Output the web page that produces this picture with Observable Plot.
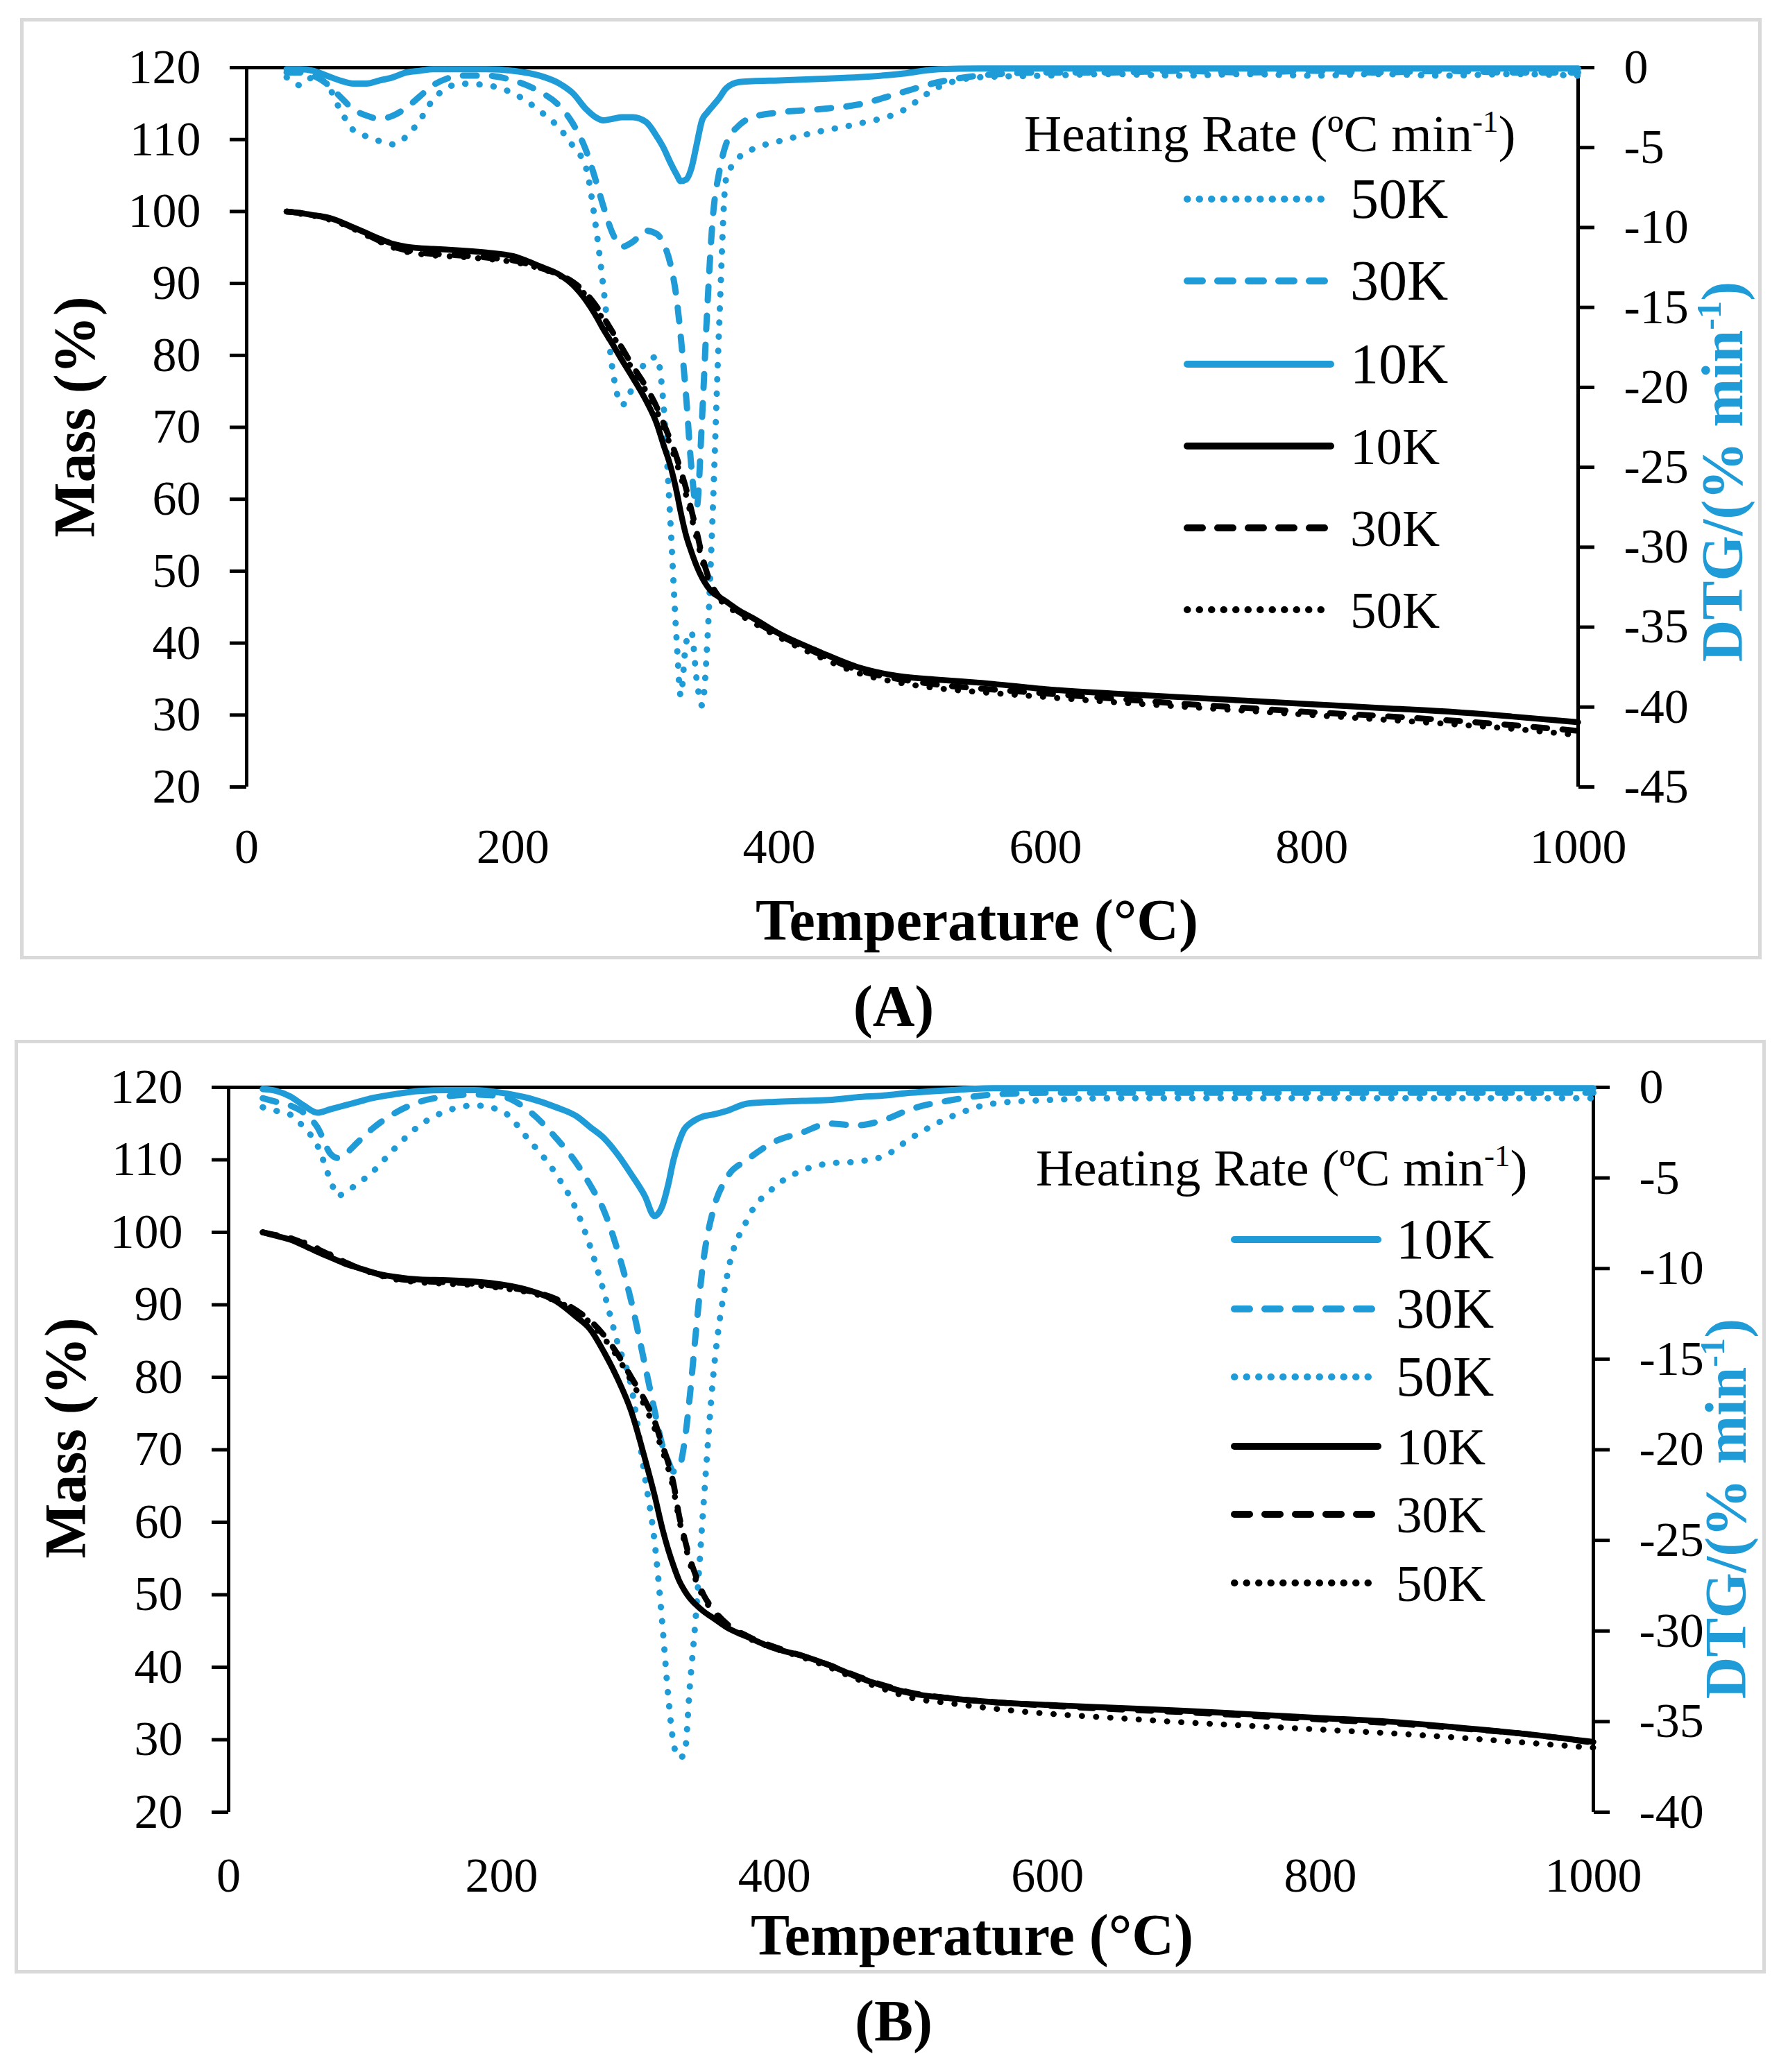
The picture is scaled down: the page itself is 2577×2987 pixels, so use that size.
<!DOCTYPE html>
<html><head><meta charset="utf-8">
<script src="https://cdn.jsdelivr.net/npm/d3@7"></script>
<script src="https://cdn.jsdelivr.net/npm/@observablehq/plot@0.6"></script>
<style>
body{margin:0;background:#fff;}
#page{position:relative;width:2577px;height:2987px;background:#fff;font-family:"Liberation Serif","Times New Roman",serif;color:#000;overflow:hidden}
.box{position:absolute;border:5px solid #d9d9d9;box-sizing:border-box}
.t{position:absolute;white-space:nowrap;line-height:1}
.c{transform:translate(-50%,-50%)}
.l{transform:translate(0,-50%)}
.v{transform:translate(-50%,-50%) rotate(-90deg)}
.b{font-weight:bold;font-size:84px}
sup{font-size:0.6em;vertical-align:0.62em;line-height:0}
.plot{position:absolute;left:0}
</style></head>
<body><div id="page"></div>
<script>
// ---------- data ----------
const blue = "#1f9cd8";
const massTicks = [20,30,40,50,60,70,80,90,100,110,120];
const tempTicks = [0,200,400,600,800,1000];
const dtgTicksA = [0,-5,-10,-15,-20,-25,-30,-35,-40,-45];
const dtgTicksB = [0,-5,-10,-15,-20,-25,-30,-35,-40];

// Panel A temperature grid (°C)
const tempA = [30,40,50,60,70,80,90,100,110,120,130,140,150,160,180,200,220,235,245,255,262,268,275,282,290,300,308,313,318,323,326,330,334,338,342,346,350,355,360,370,380,400,430,460,490,520,550,600,650,700,750,800,850,900,950,1000];
const massA10 = [100,99.8,99.5,99.2,98.6,97.8,97.0,96.2,95.5,95.1,94.9,94.8,94.7,94.6,94.3,93.8,92.4,91.2,89.8,87.6,85.6,83.6,81.5,79.3,76.9,73.7,70.5,67.6,64.8,61.0,58.2,55.0,52.7,50.7,49.1,47.9,47.0,46.4,45.8,44.5,43.5,41.3,38.8,36.6,35.4,34.9,34.5,33.6,33.0,32.5,32.0,31.5,31.0,30.5,29.8,29.0];
const massA30 = [100,99.8,99.5,99.1,98.5,97.7,96.8,95.9,95.1,94.6,94.3,94.1,94.0,93.9,93.6,93.2,92.2,91.2,90.2,88.6,87.0,85.3,83.2,81.0,78.5,75.6,72.8,70.6,68.3,65.8,64.0,61.5,58.5,55.5,52.2,49.6,47.8,46.4,45.6,44.3,43.2,41.1,38.5,36.2,35.0,34.2,33.7,33.0,32.3,31.6,31.0,30.4,29.9,29.3,28.6,27.8];
const massA50 = [100,99.7,99.4,99.0,98.4,97.6,96.7,95.8,95.0,94.4,94.1,93.9,93.8,93.7,93.4,93.0,92.1,91.1,90.0,88.3,86.6,84.9,82.8,80.5,78.0,75.0,72.2,70.0,67.6,65.0,63.2,60.6,57.6,54.6,51.6,49.2,47.4,46.1,45.3,44.0,42.9,40.8,38.1,35.8,34.5,33.7,33.2,32.5,31.8,31.2,30.6,30.0,29.4,28.8,28.1,27.2];
const dtgA10 = [-0.1,-0.1,-0.2,-0.5,-0.8,-1.0,-1.0,-0.8,-0.6,-0.3,-0.2,-0.1,-0.1,-0.1,-0.1,-0.2,-0.5,-1.0,-1.6,-2.6,-3.1,-3.3,-3.2,-3.1,-3.1,-3.4,-4.3,-5.0,-5.9,-6.7,-7.1,-7.0,-6.3,-4.8,-3.3,-2.8,-2.4,-1.9,-1.3,-0.9,-0.85,-0.8,-0.7,-0.6,-0.4,-0.1,-0.05,-0.05,-0.05,-0.05,-0.05,-0.05,-0.05,-0.05,-0.05,-0.05];
const dtgA30 = [-0.3,-0.3,-0.5,-1.0,-1.8,-2.6,-3.0,-3.2,-3.0,-2.5,-1.8,-1.1,-0.7,-0.5,-0.5,-0.8,-1.5,-2.4,-3.5,-5.2,-7.0,-8.7,-10.4,-11.2,-10.9,-10.2,-10.4,-11.0,-12.2,-14.5,-16.8,-20.5,-25.0,-27.5,-22.0,-15.0,-9.5,-6.5,-4.8,-3.6,-3.1,-2.8,-2.6,-2.3,-1.6,-0.9,-0.5,-0.3,-0.3,-0.2,-0.3,-0.2,-0.3,-0.2,-0.3,-0.3];
const dtgA50 = [-0.6,-1.1,-0.6,-1.0,-2.6,-3.9,-4.3,-4.6,-4.8,-4.3,-3.3,-2.0,-1.3,-1.0,-1.1,-1.6,-2.7,-3.8,-4.9,-6.3,-9.8,-13.8,-19.0,-21.1,-20.0,-18.4,-18.1,-21.0,-28.0,-35.9,-39.3,-36.0,-35.3,-38.3,-39.9,-35.9,-27.9,-15.9,-7.0,-5.6,-5.1,-4.6,-4.0,-3.5,-2.8,-1.2,-0.6,-0.5,-0.4,-0.5,-0.4,-0.5,-0.4,-0.5,-0.4,-0.5];

// Panel B temperature grid (°C)
const tempB = [25,35,45,55,65,75,80,85,95,105,120,140,160,180,200,220,240,255,265,275,285,295,305,312,318,322,326,330,334,338,342,348,355,365,380,400,420,440,460,480,500,530,560,600,650,700,750,800,850,900,950,1000];
const massB10 = [100,99.5,99.0,98.2,97.3,96.5,96.1,95.7,95.1,94.5,93.9,93.5,93.4,93.2,92.8,92.0,90.5,88.3,86.6,83.5,79.8,75.3,68.8,63.8,59.0,56.3,54.0,52.0,50.6,49.5,48.7,47.7,46.8,45.5,44.2,42.6,41.6,40.3,38.7,37.4,36.4,35.7,35.2,34.8,34.4,34.0,33.5,33.0,32.5,31.7,30.8,29.7];
const massB30 = [100,99.6,99.2,98.5,97.7,96.8,96.3,95.9,95.1,94.5,93.7,93.3,93.1,92.9,92.5,91.9,90.8,89.2,87.8,85.8,83.2,80.0,76.8,74.0,70.5,68.3,65.3,61.0,57.8,55.0,52.8,50.0,48.0,46.0,44.3,42.8,41.6,40.3,38.8,37.5,36.5,35.7,35.2,34.7,34.2,33.8,33.3,32.8,32.3,31.6,30.8,29.6];
const massB50 = [100,99.6,99.2,98.6,97.8,96.9,96.4,95.9,95.1,94.4,93.6,93.1,92.9,92.7,92.3,91.7,90.5,89.0,87.5,85.4,82.8,79.5,76.0,73.0,69.8,67.5,64.5,60.5,57.3,54.4,52.2,49.6,47.7,45.8,44.1,42.6,41.4,40.0,38.4,37.0,35.8,35.0,34.3,33.6,33.0,32.4,31.9,31.4,30.9,30.3,29.6,28.9];
const dtgB10 = [-0.1,-0.2,-0.5,-1.0,-1.4,-1.2,-1.1,-1.0,-0.8,-0.6,-0.4,-0.2,-0.15,-0.15,-0.3,-0.6,-1.1,-1.6,-2.2,-2.8,-3.7,-4.8,-6.0,-7.1,-6.5,-5.4,-4.0,-3.0,-2.3,-2.0,-1.8,-1.6,-1.5,-1.3,-0.9,-0.8,-0.75,-0.7,-0.55,-0.45,-0.3,-0.15,-0.05,-0.05,-0.05,-0.05,-0.05,-0.05,-0.05,-0.05,-0.05,-0.05];
const dtgB30 = [-0.6,-0.8,-1.0,-1.4,-2.2,-3.7,-3.9,-3.7,-3.0,-2.3,-1.5,-0.8,-0.5,-0.4,-0.5,-1.3,-2.8,-4.2,-5.4,-6.8,-9.0,-11.8,-15.3,-17.8,-19.8,-20.6,-21.2,-21.0,-19.6,-17.0,-13.8,-9.5,-6.8,-5.0,-4.0,-3.0,-2.5,-2.0,-2.1,-1.8,-1.2,-0.7,-0.4,-0.3,-0.3,-0.3,-0.3,-0.3,-0.3,-0.3,-0.3,-0.3];
const dtgB50 = [-1.1,-1.3,-1.5,-2.2,-3.2,-5.2,-6.0,-5.8,-5.3,-4.7,-3.5,-2.1,-1.3,-1.0,-1.3,-2.9,-4.8,-6.8,-8.8,-11.3,-14.1,-16.5,-21.5,-25.0,-29.8,-33.5,-36.2,-37.0,-36.8,-33.0,-29.5,-23.0,-16.0,-10.5,-7.3,-5.5,-4.6,-4.2,-4.1,-3.8,-2.8,-1.6,-0.9,-0.7,-0.6,-0.6,-0.6,-0.6,-0.6,-0.6,-0.6,-0.6];

const legendOrderA = [["dtg",50],["dtg",30],["dtg",10],["mass",10],["mass",30],["mass",50]];
const legendOrderB = [["dtg",10],["dtg",30],["dtg",50],["mass",10],["mass",30],["mass",50]];

// ---------- drawing ----------
const page = document.getElementById("page");
function el(html){ const d=document.createElement("div"); d.innerHTML=html; const n=d.firstElementChild; page.appendChild(n); return n; }

const curveDash = {10: null, 30: "20,22", 50: "0.5,20"};
const legDash = {10: null, 30: "22,22", 50: "0.5,17"};

function panel(cfg){
  const span = -cfg.dtgTicks[cfg.dtgTicks.length-1];
  const toM = d => 120 + d*100/span;
  const rowsM = v => cfg.temp.map((t,i)=>({T:t, v:v[i]}));
  const rowsD = v => cfg.temp.map((t,i)=>({T:t, v:toM(v[i])}));
  const line = (rows, color, rate) => Plot.line(rows, {x:"T", y:"v", stroke:color, strokeWidth: color===blue?9:8.5,
      strokeDasharray: curveDash[rate] || undefined, strokeLinecap:"round", curve:"monotone-x"});
  const svg = Plot.plot({
    width:2577, height:cfg.height,
    marginLeft:cfg.mL, marginRight:cfg.mR, marginTop:cfg.mT, marginBottom:cfg.mB,
    x:{domain:[0,1000]}, y:{domain:[20,120]},
    style:{fontFamily:'"Liberation Serif","Times New Roman",serif', fontSize:"70px", color:"#000", background:"transparent", overflow:"visible"},
    marks:[
      Plot.ruleY([120], {stroke:"#000", strokeWidth:5}),
      Plot.ruleX([0], {y1:20, y2:120, stroke:"#000", strokeWidth:5}),
      Plot.ruleX([1000], {y1:20, y2:120, stroke:"#000", strokeWidth:5}),
      Plot.axisY({anchor:"left", ticks:massTicks, tickSize:24, tickPadding:42, strokeWidth:5, label:null, tickFormat:d=>String(d)}),
      Plot.axisY({anchor:"right", ticks:cfg.dtgTicks.map(toM), tickSize:23, tickPadding:43, strokeWidth:5, label:null,
        tickFormat:d=>String(Math.round((d-120)*span/100))}),
      Plot.axisX({anchor:"bottom", ticks:tempTicks, tickSize:0, tickPadding:cfg.xPad, label:null, tickFormat:d=>String(d)}),
      line(rowsD(cfg.dtg[50]), blue, 50),
      line(rowsD(cfg.dtg[30]), blue, 30),
      line(rowsD(cfg.dtg[10]), blue, 10),
      line(rowsM(cfg.mass[50]), "#000", 50),
      line(rowsM(cfg.mass[30]), "#000", 30),
      line(rowsM(cfg.mass[10]), "#000", 10)
    ]
  });
  svg.classList.add("plot");
  svg.style.top = cfg.top + "px";
  page.appendChild(svg);

  // frame box
  el(`<div class="box" style="left:${cfg.box[0]}px;top:${cfg.box[1]}px;width:${cfg.box[2]}px;height:${cfg.box[3]}px"></div>`);
  // titles
  el(`<div class="t v b" style="left:${cfg.massT[0]}px;top:${cfg.massT[1]}px">Mass (%)</div>`);
  el(`<div class="t v b" style="left:${cfg.dtgT[0]}px;top:${cfg.dtgT[1]}px;color:${blue}">DTG/(% min<sup>-1</sup>)</div>`);
  el(`<div class="t c b" style="left:${cfg.tempT[0]}px;top:${cfg.tempT[1]}px">Temperature (°C)</div>`);
  el(`<div class="t c b" style="left:${cfg.tag[0]}px;top:${cfg.tag[1]}px">${cfg.tagText}</div>`);
  // legend
  el(`<div class="t l" style="left:${cfg.legT[0]}px;top:${cfg.legT[1]}px;font-size:75px">Heating Rate (ºC min<sup>-1</sup>)</div>`);
  cfg.order.forEach(([kind, rate], i) => {
    const y = cfg.legY[i];
    const color = kind === "dtg" ? blue : "#000";
    const w = cfg.legX[1]-cfg.legX[0];
    const dash = legDash[rate] ? `stroke-dasharray="${legDash[rate]}"` : "";
    el(`<svg style="position:absolute;left:${cfg.legX[0]}px;top:${y-10}px;overflow:visible" width="${w}" height="20"><line x1="5" y1="10" x2="${w-5}" y2="10" stroke="${color}" stroke-width="10" stroke-linecap="round" ${dash}/></svg>`);
    el(`<div class="t l" style="left:${cfg.legL}px;top:${y}px;font-size:${kind==="dtg"?82:75}px">${rate}K</div>`);
  });
}

panel({
  top:0, height:1400, mL:355, mR:2577-2274, mT:97, mB:1400-1134, xPad:60,
  temp:tempA, mass:{10:massA10,30:massA30,50:massA50}, dtg:{10:dtgA10,30:dtgA30,50:dtgA50},
  dtgTicks:dtgTicksA,
  box:[29,26,2510,1357],
  massT:[108,601], dtgT:[2483,680], tempT:[1408,1327], tag:[1288,1451], tagText:"(A)",
  legT:[1476,192], legX:[1706,1923], legL:1946, legY:[287,405,525,643,761,879],
  order:legendOrderA
});
panel({
  top:1480, height:1400, mL:329, mR:2577-2296, mT:1567-1480, mB:1480+1400-2612, xPad:65,
  temp:tempB, mass:{10:massB10,30:massB30,50:massB50}, dtg:{10:dtgB10,30:dtgB30,50:dtgB50},
  dtgTicks:dtgTicksB,
  box:[21,1499,2524,1346],
  massT:[95,2073], dtgT:[2488,2175], tempT:[1401,2790], tag:[1288,2914], tagText:"(B)",
  legT:[1493,1683], legX:[1774,1991], legL:2012, legY:[1787,1887,1985,2085,2183,2282],
  order:legendOrderB
});
</script>
</body></html>
